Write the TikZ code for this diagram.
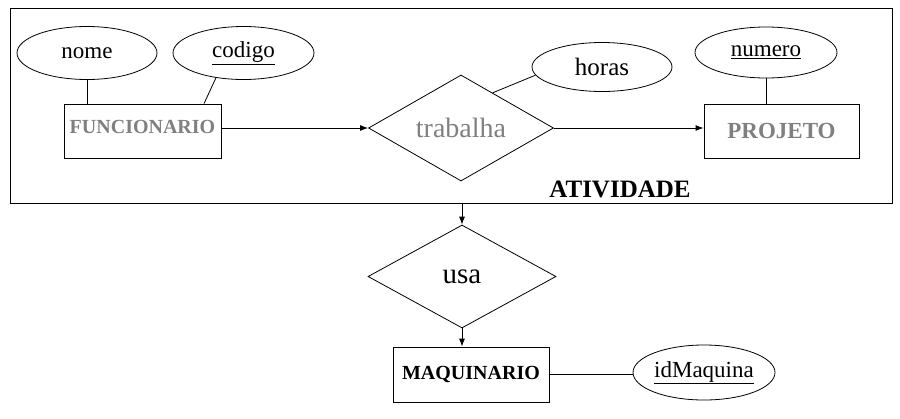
\documentclass[tikz,border=0pt]{standalone}
\usepackage{fontspec}
\setmainfont{Liberation Serif}
\usetikzlibrary{shapes.geometric,arrows.meta}
\definecolor{cinza}{gray}{0.5}
\tikzset{
	ent/.style={draw, rectangle, inner sep=0pt, font=\fontsize{20}{24}\selectfont\bfseries},
	atrib/.style={draw, ellipse, inner sep=0pt, font=\fontsize{23}{27}\selectfont},
	rel/.style={draw, diamond, inner sep=0pt, font=\fontsize{28}{32}\selectfont},
	seta/.style={-{Latex[length=8pt,width=6pt]}}
}
\begin{document}
\begin{tikzpicture}[x=1pt, y=-1pt, line width=0.8pt]
	\useasboundingbox (0,0) rectangle (900,418);
	% agregacao
	\node[draw, minimum width=882pt, minimum height=195pt, inner sep=0pt] (ativ) at (451,105.5) {};
	\node[font=\fontsize{25}{30}\selectfont\bfseries] (ativlbl) at (620,189) {ATIVIDADE};
	% entidades
	\node[ent, text=cinza, minimum width=157pt, text height=29.5pt, text depth=24.5pt] (func) at (142.5,131) {FUNCIONARIO};
	\node[ent, text=cinza, font=\fontsize{23}{27}\selectfont\bfseries, minimum width=155pt, minimum height=54pt] (proj) at (781.5,131) {PROJETO};
	\node[ent, minimum width=156pt, minimum height=55pt] (maq) at (471,374.5) {MAQUINARIO};
	% relacionamentos
	\node[rel, text=cinza, minimum width=185pt, minimum height=106pt, aspect=1.745] (trab) at (461,128) {trabalha};
	\node[rel, font=\fontsize{29}{33}\selectfont, minimum width=188pt, minimum height=103pt, aspect=1.8] (usa) at (462,276.5) {usa};
	% atributos
	\node[atrib, minimum width=140pt, minimum height=53pt] (nome) at (87,53) {nome};
	\node[atrib, minimum width=141pt, minimum height=53pt] (codigo) at (243.5,53) {\underline{codigo}};
	\node[atrib, font=\fontsize{25}{29}\selectfont, minimum width=140pt, minimum height=49pt] (horas) at (602,67) {horas};
	\node[atrib, minimum width=142pt, minimum height=51pt] (numero) at (766,52.5) {\underline{numero}};
	\node[atrib, minimum width=142pt, minimum height=55pt] (idmaq) at (704,372.5) {\underline{idMaquina}};
	% ligacoes
	\draw (nome.south) -- (nome.south |- func.north);
	\draw (codigo.222) -- ([xshift=61.5pt]func.north);
	\draw (trab.48) -- (horas.187);
	\draw (numero.south) -- (numero.south |- proj.north);
	\draw[seta] (func.east |- trab.west) -- (trab.west);
	\draw[seta] (trab.east) -- (trab.east -| proj.west);
	\draw[seta] (ativ.south -| usa.north) -- (usa.north);
	\draw[seta] (usa.south) -- (usa.south |- maq.north);
	\draw (maq.east) -- (maq.east -| idmaq.west);
\end{tikzpicture}
\end{document}
